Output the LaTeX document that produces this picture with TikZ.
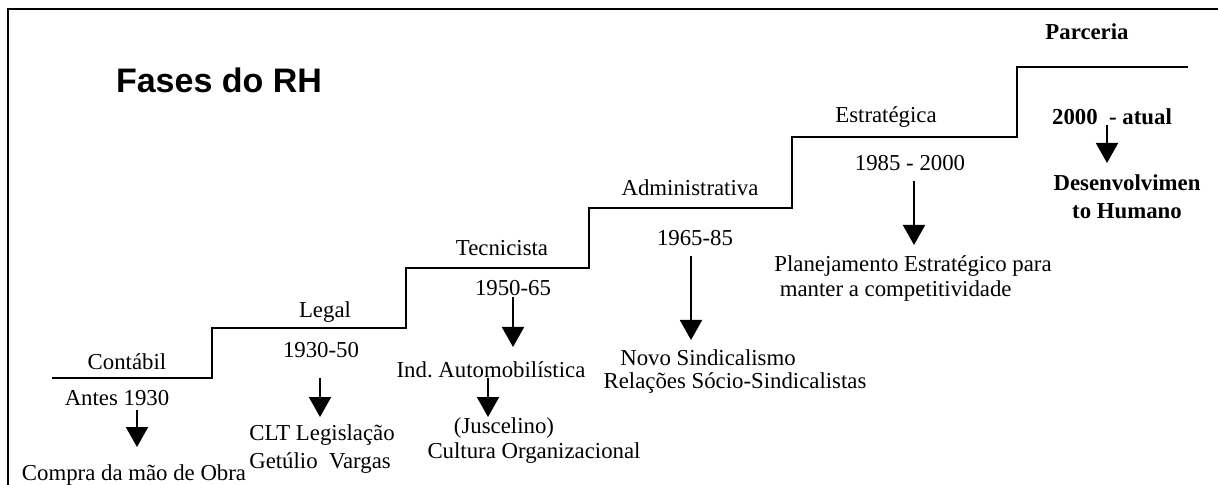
\documentclass[tikz,border=0pt]{standalone}
\usepackage{fontspec}
\setmainfont{Liberation Serif}
\newfontfamily\titlefont{Liberation Sans}
\usetikzlibrary{arrows.meta,positioning}

\begin{document}
\begin{tikzpicture}[x=0.5pt, y=-0.5pt,
  lab/.style={inner sep=0pt, font=\fontsize{11.4}{14}\selectfont},
  lablist/.style={lab, align=left},
  strong/.style={inner sep=0pt, font=\fontsize{11.4}{14}\selectfont\bfseries},
  stair/.style={line width=1pt},
  arr/.style={-{Triangle[width=11pt,length=10pt]}, line width=1pt}]
\useasboundingbox (0,0) rectangle (1218,485);
\draw[line width=1pt] (8,485) -- (8,9) -- (1218,9);
\node[font=\titlefont\bfseries\fontsize{17}{20}\selectfont] (title)
  at (219,80) {Fases do RH};
% the stairs
\draw[stair] (52,378) -| (212,328) -| (406,268) -| (589,208)
  -| (792,137) -| (1017,67) -- (1188,67);
% phases, periods and notes
\node[lab] (contabil) at (127,362) {Contábil};
\node[lab] (antes) at (117,398) {Antes 1930};
\node[lab] (compra) at (134,475) {Compra da mão de Obra};
\node[lab] (legal) at (325,312) {Legal};
\node[lab] (y1930) at (321,350) {1930-50};
\node[lablist] (clt) at (322,449) {CLT Legislação\\Getúlio\ \ Vargas};
\node[lab] (tecnicista) at (502,248) {Tecnicista};
\node[lab] (y1950) at (513,288) {1950-65};
\node[lab] (ind) at (491,370) {Ind.\ Automobilística};
\node[lab] (juscelino) at (504,428) {(Juscelino)};
\node[lab] (cultura) at (534,453) {Cultura Organizacional};
\node[lab] (admin) at (690,188) {Administrativa};
\node[lab] (y1965) at (695,238) {1965-85};
\node[lab] (novo) at (708,358) {Novo Sindicalismo};
\node[lab] (relacoes) at (735,383) {Relações Sócio-Sindicalistas};
\node[lab] (estrategica) at (886,117) {Estratégica};
\node[lab] (y1985) at (910,163) {1985 - 2000};
\node[lablist, font=\fontsize{11.4}{12.5}\selectfont] (plan) at (913,279)
  {Planejamento Estratégico para\\\hspace*{2.75pt}manter a competitividade};
\node[strong] (parceria) at (1087,32) {Parceria};
\node[strong] (y2000) at (1112,117) {2000\ \ - atual};
\node[strong, align=center] (desenv) at (1127,197) {Desenvolvimen\\to Humano};
% arrow tips
\coordinate (tip1) at (137,447);
\coordinate (tip2) at (320,417);
\coordinate (tip3) at (513,347);
\coordinate (tip4) at (488,417);
\coordinate (tip5) at (691,340);
\coordinate (tip6) at (914,245);
\coordinate (tip7) at (1107,163);
\draw[arr, shorten <=2pt] (antes.south -| tip1) -- (tip1);
\draw[arr, shorten <=10pt] (y1930.south -| tip2) -- (tip2);
\draw[arr, shorten <=0.5pt] (y1950.south -| tip3) -- (tip3);
\draw[arr] (ind.south -| tip4) -- (tip4);
\draw[arr, shorten <=5pt] (y1965.south -| tip5) -- (tip5);
\draw[arr, shorten <=5pt] (y1985.south -| tip6) -- (tip6);
\draw[arr] (y2000.south -| tip7) -- (tip7);
\end{tikzpicture}
\end{document}
